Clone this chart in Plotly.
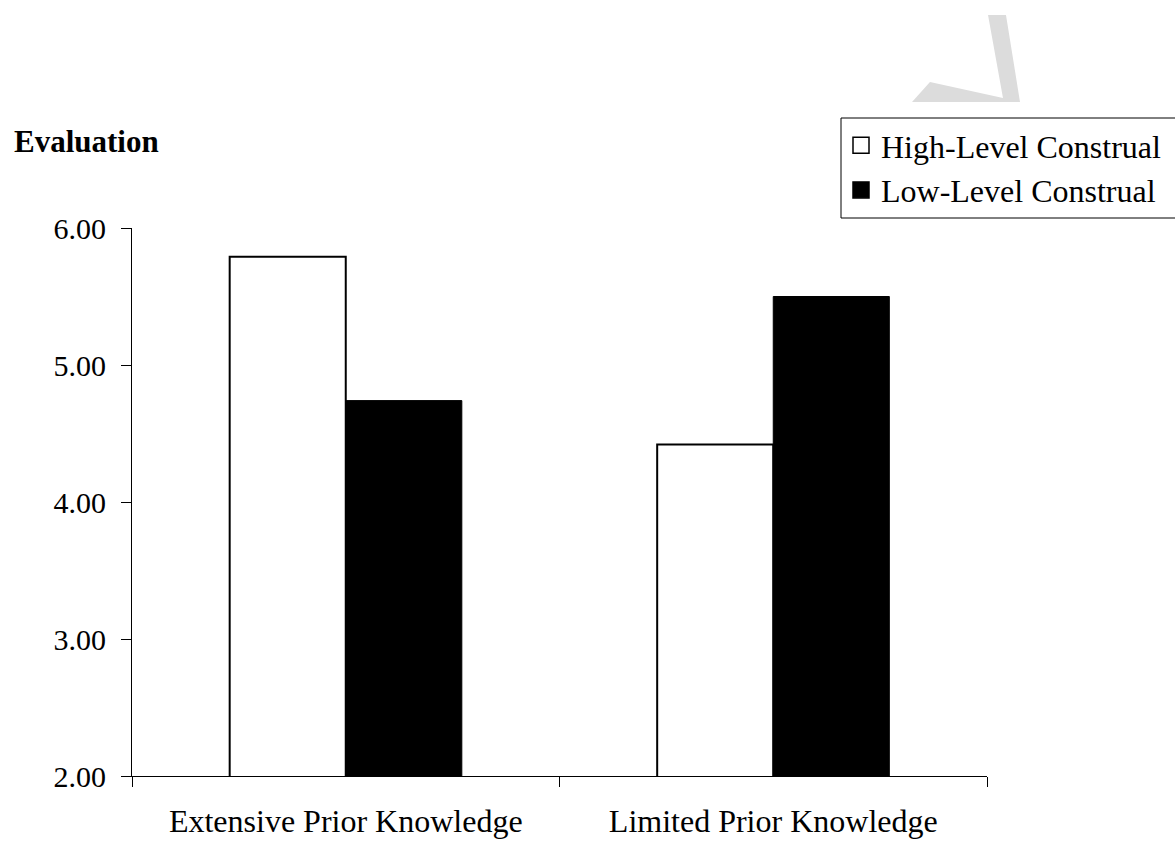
import plotly.graph_objects as go

categories = ["Extensive Prior Knowledge", "Limited Prior Knowledge"]
series_names = ["High-Level Construal", "Low-Level Construal"]
high_level = [5.79, 4.42]
low_level = [4.74, 5.50]
y_ticks = [2, 3, 4, 5, 6]
y_title = "Evaluation"

FONT = "Liberation Serif, Times New Roman, serif"

fig = go.Figure()
fig.add_trace(go.Bar(
    x=categories, y=high_level, name=series_names[0], showlegend=False,
    marker=dict(color="white", line=dict(color="black", width=2)),
))
fig.add_trace(go.Bar(
    x=categories, y=low_level, name=series_names[1], showlegend=False,
    marker=dict(color="black", line=dict(color="black", width=1)),
))
# legend entries with larger square symbols
fig.add_trace(go.Scatter(
    x=[None], y=[None], mode="markers", name=series_names[0],
    marker=dict(symbol="square", size=20, color="white", line=dict(color="black", width=1.5)),
))
fig.add_trace(go.Scatter(
    x=[None], y=[None], mode="markers", name=series_names[1],
    marker=dict(symbol="square", size=20, color="black", line=dict(color="black", width=1.5)),
))

L, R, T, B = 132, 188, 228, 68
W, H = 1175, 844
pw, ph = W - L - R, H - T - B

def px(x):
    return (x - L) / pw

def py(y):
    return (H - B - y) / ph

# light gray watermark fragment (decoration)
pts = [(988, 15), (1006, 15), (1020, 102), (912, 102), (930, 82), (1003, 98)]
path = "M " + " L ".join(f"{px(a):.4f},{py(b):.4f}" for a, b in pts) + " Z"

fig.update_layout(
    width=W, height=H,
    margin=dict(l=L, r=R, t=T, b=B, autoexpand=False),
    paper_bgcolor="white", plot_bgcolor="white",
    barmode="group", bargap=0.457, bargroupgap=0,
    font=dict(family=FONT, size=30, color="black"),
    xaxis=dict(
        type="category", showline=True, linecolor="black", linewidth=1,
        ticks="outside", ticklen=10, tickcolor="black", tickson="boundaries",
        showgrid=False, zeroline=False, ticklabelstandoff=17,
        tickfont=dict(family=FONT, size=32, color="black"),
    ),
    yaxis=dict(
        range=[2, 6], tickvals=y_ticks, tickformat=".2f",
        showline=True, linecolor="black", linewidth=1,
        ticks="outside", ticklen=10, tickcolor="black",
        showgrid=False, zeroline=False, ticklabelstandoff=9,
        tickfont=dict(family=FONT, size=30, color="black"),
    ),
    legend=dict(
        x=px(841), y=py(118), xanchor="left", yanchor="top",
        borderwidth=0, bgcolor="rgba(0,0,0,0)",
        font=dict(family=FONT, size=32, color="black"),
        itemsizing="trace", tracegroupgap=0,
    ),
    shapes=[
        dict(type="path", path=path, xref="paper", yref="paper",
             fillcolor="#dcdcdc", line=dict(width=0), layer="below"),
        # legend frame running past the right edge of the page
        dict(type="rect", xref="paper", yref="paper",
             x0=px(841), x1=px(1185), y0=py(218), y1=py(118),
             fillcolor="white", line=dict(color="black", width=1), layer="below"),
    ],
    annotations=[dict(
        text=f"<b>{y_title}</b>", xref="paper", yref="paper",
        x=px(12), y=py(141), xanchor="left", yanchor="middle", showarrow=False,
        font=dict(family=FONT, size=31, color="black"),
    )],
)

fig.write_html("out.html")
